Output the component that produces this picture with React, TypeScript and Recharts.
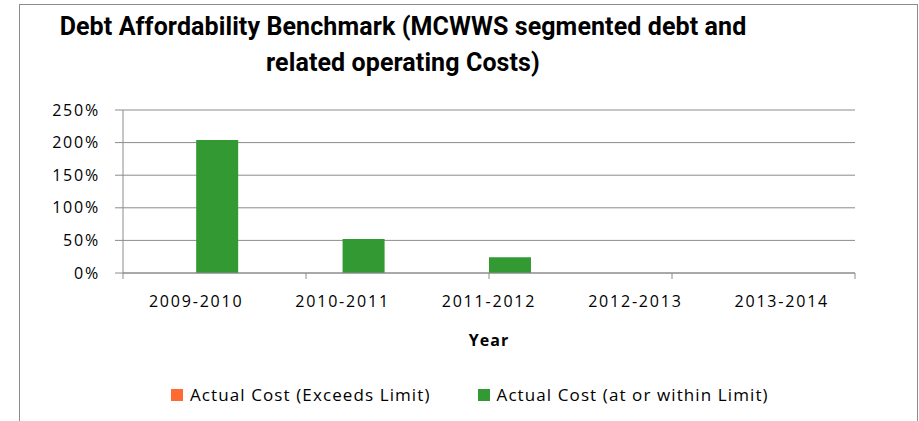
import React from 'react';
import { BarChart, Bar, XAxis, YAxis, CartesianGrid } from 'recharts';

const years = ['2009-2010', '2010-2011', '2011-2012', '2012-2013', '2013-2014'];
const exceedsLimit = [0, 0, 0, 0, 0];
const withinLimit = [2.04, 0.52, 0.24, 0, 0];
const yTicks = [0, 0.5, 1, 1.5, 2, 2.5];
const edgeTicks = [0, 1, 2, 3, 4, 5];
const seriesNames = ['Actual Cost (Exceeds Limit)', 'Actual Cost (at or within Limit)'];
const seriesColors = ['#ff6a33', '#339933'];

const data = years.map((year, i) => ({
  year,
  exceeds: exceedsLimit[i],
  within: withinLimit[i],
}));

const tickFont = { fontFamily: 'Open Sans', fontSize: 16, fill: '#000', letterSpacing: 1.8 };
const gridColor = '#8c8c8c';

export default function App() {
  return (
    <div style={{ position: 'absolute', left: 0, top: 0, width: 919, height: 421, background: '#fff', overflow: 'hidden' }}>
      {/* outer chart frame */}
      <div style={{ position: 'absolute', left: 19, top: 4, width: 897, height: 440, border: `1px solid ${gridColor}` }} />

      {/* title */}
      <div
        style={{
          position: 'absolute', left: 3, top: 9, width: 800, textAlign: 'center',
          fontFamily: 'Roboto', fontWeight: 700, fontSize: 25, lineHeight: '36px', color: '#000', letterSpacing: 0.1,
        }}
      >
        Debt Affordability Benchmark (MCWWS segmented debt and
        <br />
        related operating Costs)
      </div>

      <div style={{ position: 'absolute', left: 0, top: 0 }}>
        <BarChart
          width={919}
          height={421}
          data={data}
          margin={{ top: 110, right: 64, left: 63, bottom: 70 }}
          barCategoryGap="21.3%"
          barGap={0}
        >
          <CartesianGrid xAxisId="b_cat" vertical={false} stroke={gridColor} strokeWidth={1} />
          {/* tick marks between categories, Excel style */}
          <XAxis
            xAxisId="a_edges"
            type="number"
            domain={[0, 5]}
            ticks={edgeTicks}
            tick={() => <g />}
            tickSize={6}
            tickLine={{ stroke: gridColor }}
            axisLine={{ stroke: gridColor }}
            height={6}
            allowDataOverflow
          />
          <XAxis
            xAxisId="b_cat"
            dataKey="year"
            tickLine={false}
            axisLine={false}
            tickSize={0}
            tickMargin={17}
            tick={tickFont}
            height={72}
            label={{ value: 'Year', position: 'insideBottom', offset: 5, fontFamily: 'Open Sans', fontWeight: 700, fontSize: 16, fill: '#000', letterSpacing: 1 }}
          />
          <YAxis
            domain={[0, 2.5]}
            ticks={yTicks}
            width={60}
            tickSize={8}
            tickMargin={15}
            tickLine={{ stroke: gridColor }}
            axisLine={{ stroke: gridColor }}
            tick={tickFont}
            tickFormatter={(v: number) => `${Math.round(v * 100)}%`}
          />
          <Bar xAxisId="b_cat" dataKey="exceeds" name={seriesNames[0]} fill={seriesColors[0]} isAnimationActive={false} />
          <Bar xAxisId="b_cat" dataKey="within" name={seriesNames[1]} fill={seriesColors[1]} isAnimationActive={false} />
        </BarChart>
      </div>

      {/* legend */}
      <div style={{ position: 'absolute', left: 171, top: 383, display: 'flex', gap: 47, fontFamily: 'Open Sans', fontSize: 17, letterSpacing: 1.1, color: '#000' }}>
        {seriesNames.map((name, i) => (
          <div key={name} style={{ display: 'flex', alignItems: 'center', gap: 7 }}>
            <span style={{ width: 12, height: 12, background: seriesColors[i], display: 'inline-block' }} />
            <span>{name}</span>
          </div>
        ))}
      </div>
    </div>
  );
}
